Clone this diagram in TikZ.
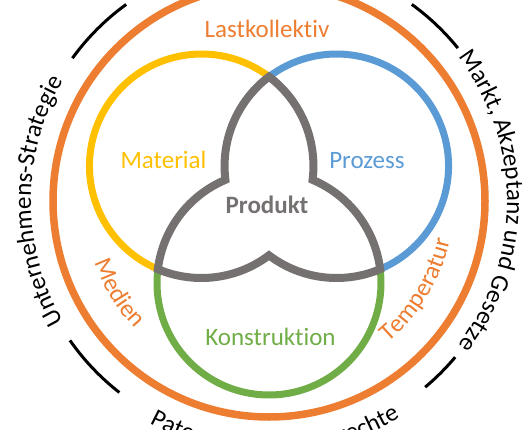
\documentclass[tikz,border=0pt]{standalone}
\usepackage{fontspec}
\setmainfont[Ligatures={NoCommon,NoContextual}]{Carlito}
\usetikzlibrary{decorations.text,calc}
\definecolor{ringorange}{HTML}{ED7D31}
\definecolor{matyellow}{HTML}{FFC000}
\definecolor{procblue}{HTML}{5B9BD5}
\definecolor{constgreen}{HTML}{70AD47}
\definecolor{prodgray}{HTML}{767171}
\newcommand{\lblfont}{\fontsize{25}{30}\selectfont}

\begin{document}
\begin{tikzpicture}[%
    x=1pt, y=1pt,
    ring/.style={line width=7.5pt, draw=ringorange},
    venn/.style={line width=7pt},
    bar/.style={line width=3pt, draw=black},
    lbl/.style={font=\lblfont, inner sep=0pt, anchor=base},
    arclbl/.style={decorate, decoration={text along path, text align=center, text color=#1}}
    ]
    \useasboundingbox (0,0) rectangle (532,429);

    \coordinate (C) at (269,228);
    \coordinate (O) at (269,224);
    \coordinate (Y) at ($(O)+(150:78)$);
    \coordinate (B) at ($(O)+(30:78)$);
    \coordinate (G) at ($(O)+(270:78)$);
    \coordinate (T) at ($(B)+(127.1:112)$);

    % outer ring and the four separators
    \draw[ring] (C) circle[radius=216];
    \draw[bar] ($(C)+(126:243)$) arc[start angle=126, end angle=144, radius=243];
    \draw[bar] ($(C)+(39:243)$) arc[start angle=39, end angle=54, radius=243];
    \draw[bar] ($(C)+(215:243)$) arc[start angle=215, end angle=232, radius=243];
    \draw[bar] ($(C)+(310:243)$) arc[start angle=310, end angle=320, radius=243];

    % outer labels
    \path[arclbl=black, decoration={text={|\lblfont|Unternehmens-Strategie}}]
        ($(C)+(240:238)$) arc[start angle=240, end angle=120, radius=238];
    \path[arclbl=black, decoration={text={|\lblfont|Markt, Akzeptanz und Gesetze}}]
        ($(C)+(60:238)$) arc[start angle=60, end angle=-60, radius=238];
    \path[arclbl=black, decoration={text={|\lblfont|Patente und Schutzrechte}}]
        ($(C)+(201.5:253)$) arc[start angle=201.5, end angle=341.5, radius=253];

    % inner ring labels
    \node[lbl, text=ringorange] (last) at (267,391.5) {Lastkollektiv};
    \path[arclbl=ringorange, decoration={text={|\lblfont|Medien}}]
        ($(C)+(171.5:185)$) arc[start angle=171.5, end angle=251.5, radius=185];
    \path[arclbl=ringorange, decoration={text={|\lblfont|Temperatur}}]
        ($(C)+(-71:185)$) arc[start angle=-71, end angle=9, radius=185];

    % three circles
    \draw[venn, matyellow] ($(Y)+(52.9:112)$) arc[start angle=52.9, end angle=247.1, radius=112];
    \draw[venn, procblue] ($(B)+(-67.1:112)$) arc[start angle=-67.1, end angle=127.1, radius=112];
    \draw[venn, constgreen] ($(G)+(172.9:112)$) arc[start angle=172.9, end angle=367.1, radius=112];

    % product trefoil
    \draw[venn, prodgray, line width=8pt] (T)
        arc[start angle=127.1, end angle=187.1, radius=112]
        arc[start angle=112.9, end angle=172.9, radius=112]
        arc[start angle=247.1, end angle=307.1, radius=112]
        arc[start angle=232.9, end angle=292.9, radius=112]
        arc[start angle=7.1, end angle=67.1, radius=112]
        arc[start angle=-7.1, end angle=52.9, radius=112] -- cycle;

    \node[lbl, text=matyellow] (mat) at (163.5,261) {Material};
    \node[lbl, text=procblue] (proz) at (367,261) {Prozess};
    \node[lbl, text=prodgray, font=\lblfont\bfseries] (prod) at (267,216) {Produkt};
    \node[lbl, text=constgreen] (kons) at (270.5,84) {Konstruktion};
\end{tikzpicture}
\end{document}
